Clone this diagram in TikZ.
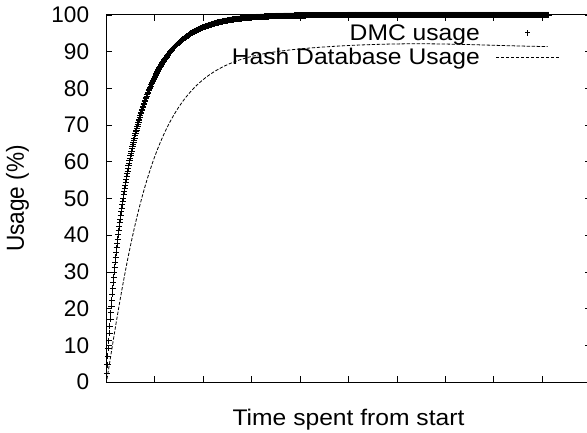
\documentclass[tikz,border=0pt]{standalone}
\usepackage{fontspec}
\setmainfont{Liberation Sans}
\begin{document}
\begin{tikzpicture}[
    x=48.4pt,y=3.67pt,
    font=\fontsize{22.6}{26}\selectfont,
    frame/.style={draw=black,line width=1pt},
    tick/.style={draw=black,line width=0.8pt},
    word/.style={xscale=1.09,inner sep=0pt},
    num/.style={anchor=east,inner sep=0pt},
    dmc/.style={only marks,mark=+,mark size=3.1pt,mark options={line width=1pt}},
    hashdb/.style={draw=black,line width=0.8pt,dash pattern=on 3.3pt off 1.7pt},
]
    \useasboundingbox (-106.5pt,-50pt) rectangle (480.5pt,382pt);
    % plot box and ticks
    \draw[frame] (0,0) coordinate (o) rectangle (10,100) coordinate (c);
    \foreach \i in {1,...,9} {
        \draw[tick] (\i,0) -- ++(0,6pt);
        \draw[tick] (\i,100) -- ++(0,-6pt);
    }
    \foreach \v in {0,10,...,100} {
        \node[num] (y\v) at (-17.2pt,\v) {\v};
        \draw[tick] (0,\v) -- ++(6pt,0);
        \draw[tick] (10,\v) -- ++(-6pt,0);
    }
    % axis labels
    \node[word,rotate=90] (ylab) at (-89pt,50) {Usage (\%)};
    \node[word,anchor=base] (xlab) at (5,-43pt) {Time spent from start};
    % curves
    \draw[dmc] plot[domain=0.01:9.14,samples=900]
        (\x,{100*(1-exp(-(\x/0.62+0.17*(1-exp(-\x/0.2)))))});
    \draw[hashdb] plot[domain=0.01:9.12,samples=300]
        (\x,{(91.2+1.0*exp(-((\x-6.3)/2.2)^2))*(1-exp(-(\x/0.82-0.1*(1-exp(-\x/0.3)))))});
    % key
    \node[word,anchor=base east] (dmckey) at (373.5pt,341.3pt) {DMC usage};
    \node[word,anchor=base east] (hashkey) at (373.5pt,317pt) {Hash Database Usage};
    \coordinate (dmcmark) at (421.2pt,349pt);
    \draw[dmc,mark size=2.6pt] plot coordinates {(dmcmark)};
    \coordinate (hasha) at (389.5pt,324.3pt);
    \coordinate (hashb) at (454.2pt,324.3pt);
    \draw[hashdb] (hasha) -- (hashb);
\end{tikzpicture}
\end{document}
